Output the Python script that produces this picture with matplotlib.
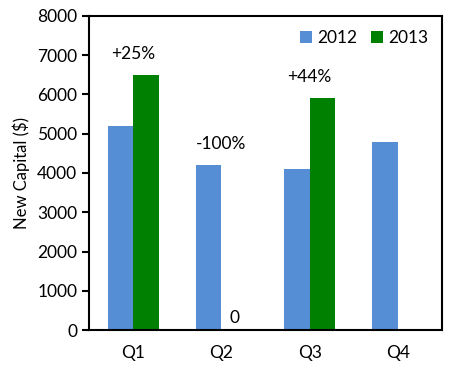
import numpy as np
import matplotlib.pyplot as plt

quarters = ["Q1", "Q2", "Q3", "Q4"]
capital_2012 = [5200, 4200, 4100, 4800]
capital_2013 = [6500, 0, 5900, np.nan]
change_labels = ["+25%", "-100%", "+44%", ""]

plt.rcParams['font.family'] = ['Lato', 'DejaVu Sans']

blue = "#558ed5"
green = "#008000"
fs = 12.5

fig, ax = plt.subplots(figsize=(4.54, 3.70), dpi=100)
fig.subplots_adjust(left=0.196, right=0.974, top=0.957, bottom=0.108)

x = np.arange(len(quarters))
w = 0.29
ax.bar(x - w / 2, capital_2012, w, color=blue, label="2012")
ax.bar(x + w / 2, capital_2013, w, color=green, label="2013")

# percent change above each quarter
for i, lab in enumerate(change_labels):
    if not lab:
        continue
    top = np.nanmax([capital_2012[i], capital_2013[i]])
    ax.text(x[i], top + 330, lab, ha="center", va="bottom", fontsize=fs)

ax.text(x[1] + w / 2, 100, "0", ha="center", va="bottom", fontsize=fs)

ax.set_xlim(-0.5, 3.5)
ax.set_ylim(0, 8000)
ax.set_yticks(range(0, 8001, 1000))
ax.set_xticks(x)
ax.set_xticklabels(quarters)
ax.tick_params(axis="x", length=0, pad=11, labelsize=fs)
ax.tick_params(axis="y", length=5, width=1.5, direction="out", labelsize=fs)
ax.set_ylabel("New Capital ($)", fontsize=12, labelpad=5)

for s in ax.spines.values():
    s.set_linewidth(1.5)
    s.set_color("black")

ax.legend(loc="upper right", frameon=False, fontsize=fs, handlelength=0.7,
          handleheight=0.7, handletextpad=0.3, columnspacing=0.8, ncol=2,
          borderaxespad=0.5, borderpad=0.3)

plt.savefig("out.png", dpi=100)
